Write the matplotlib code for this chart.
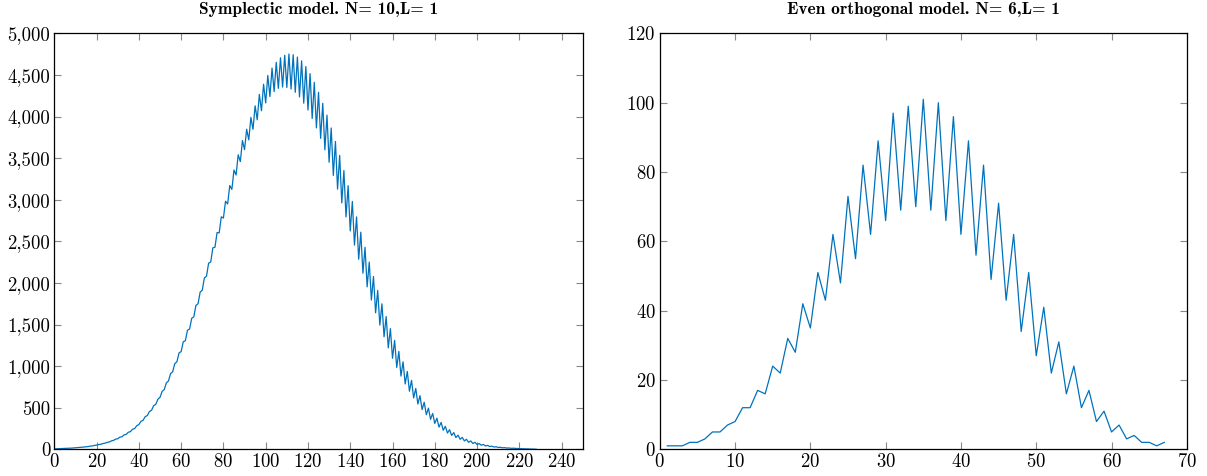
import matplotlib.pyplot as plt
import numpy as np
from matplotlib.ticker import FuncFormatter, MultipleLocator

# Computer Modern look (ships with matplotlib)
plt.rcParams['font.family'] = 'cmr10'
plt.rcParams['axes.formatter.use_mathtext'] = True
plt.rcParams['mathtext.fontset'] = 'cm'

# Symplectic model, N=10, L=1 : counts for degree 0..228
symp_x = np.arange(0, 229)
symp_counts = [
    5, 6, 7, 8, 9, 10, 11, 13, 14, 16,
    18, 20, 22, 24, 27, 30, 33, 38, 40, 47,
    50, 57, 61, 69, 74, 83, 88, 101, 107, 122,
    127, 146, 151, 173, 179, 205, 212, 241, 249, 283,
    298, 336, 349, 392, 406, 454, 469, 524, 541, 602,
    624, 696, 718, 798, 821, 910, 932, 1030, 1052, 1158,
    1175, 1292, 1306, 1431, 1446, 1575, 1593, 1730, 1750, 1890,
    1913, 2061, 2081, 2238, 2252, 2422, 2429, 2606, 2602, 2795,
    2780, 2982, 2950, 3171, 3125, 3358, 3298, 3541, 3459, 3712,
    3603, 3848, 3720, 3990, 3847, 4130, 3961, 4267, 4070, 4389,
    4164, 4495, 4241, 4583, 4300, 4652, 4340, 4707, 4355, 4737,
    4350, 4753, 4331, 4744, 4292, 4716, 4236, 4670, 4161, 4602,
    4079, 4517, 3977, 4412, 3864, 4292, 3738, 4160, 3600, 4017,
    3451, 3863, 3293, 3701, 3128, 3533, 2962, 3352, 2793, 3169,
    2625, 2980, 2455, 2794, 2285, 2610, 2117, 2429, 1953, 2251,
    1794, 2077, 1641, 1910, 1493, 1749, 1352, 1596, 1219, 1451,
    1094, 1309, 984, 1177, 880, 1052, 785, 936, 698, 829,
    618, 732, 544, 645, 477, 566, 416, 495, 360, 431,
    311, 374, 267, 323, 229, 276, 195, 236, 166, 201,
    141, 170, 120, 143, 101, 120, 84, 101, 70, 84,
    58, 69, 49, 58, 40, 47, 33, 38, 27, 31,
    22, 24, 18, 20, 15, 16, 12, 13, 11, 9,
    8, 7, 6, 5, 4, 3, 3, 2, 1,
]

# Even orthogonal model, N=6, L=1 : counts for degree 1..67
orth_x = np.arange(1, 68)
orth_counts = [
    1, 1, 1, 2, 2, 3, 5, 5, 7, 8,
    12, 12, 17, 16, 24, 22, 32, 28, 42, 35,
    51, 43, 62, 48, 73, 55, 82, 62, 89, 66,
    97, 69, 99, 70, 101, 69, 100, 66, 96, 62,
    89, 56, 82, 49, 71, 43, 62, 34, 51, 27,
    41, 22, 31, 16, 24, 12, 17, 8, 11, 5,
    7, 3, 4, 2, 2, 1, 2,
]

line_color = '#0072BD'

fig = plt.figure(figsize=(12.07, 4.76), dpi=100)
ax1 = fig.add_axes([0.045, 0.0561, 0.4378, 0.8737])
ax2 = fig.add_axes([0.5466, 0.0561, 0.4367, 0.8737])


def style(ax):
    ax.tick_params(direction='in', top=True, right=True, length=5, width=0.8,
                   color='#888888', labelsize=13.5, pad=3)
    for s in ax.spines.values():
        s.set_linewidth(0.9)
        s.set_color('black')


ax1.plot(symp_x, symp_counts, color=line_color, linewidth=0.9)
ax1.set_xlim(0, 250)
ax1.set_ylim(0, 5000)
ax1.xaxis.set_major_locator(MultipleLocator(20))
ax1.yaxis.set_major_locator(MultipleLocator(500))
ax1.yaxis.set_major_formatter(FuncFormatter(lambda v, p: f"{int(v):,}"))
ax1.set_title("Symplectic model. N= 10,L= 1", fontfamily='cmb10', fontsize=12.5, pad=14)
style(ax1)

ax2.plot(orth_x, orth_counts, color=line_color, linewidth=0.9)
ax2.set_xlim(0, 70)
ax2.set_ylim(0, 120)
ax2.xaxis.set_major_locator(MultipleLocator(10))
ax2.yaxis.set_major_locator(MultipleLocator(20))
ax2.set_title("Even orthogonal model. N= 6,L= 1", fontfamily='cmb10', fontsize=12.5, pad=14)
style(ax2)

fig.savefig("out.png", dpi=100)
